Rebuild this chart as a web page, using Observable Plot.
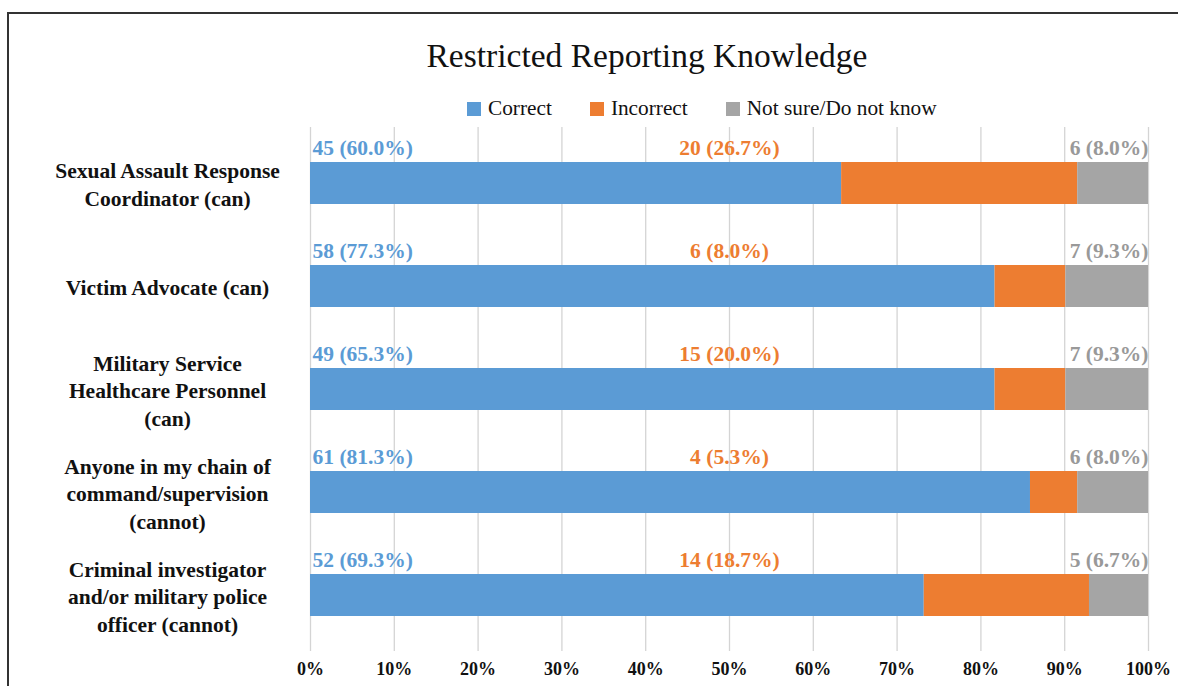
<!DOCTYPE html>
<html>
<head>
<meta charset="utf-8">
<script src="https://cdn.jsdelivr.net/npm/d3@7"></script>
<script src="https://cdn.jsdelivr.net/npm/@observablehq/plot@0.6"></script>
<style>
  html, body { margin: 0; padding: 0; background: #fff; }
  #wrap { position: relative; width: 1178px; height: 686px; overflow: hidden; font-family: "Liberation Serif", "DejaVu Serif", serif; }
  #frame { position: absolute; left: 7px; top: 12px; width: 1200px; height: 700px; border-top: 2px solid #333; border-left: 2px solid #333; }
  #title { position: absolute; left: 0; width: 1294px; top: 37px; text-align: center; font-size: 33.5px; color: #111; }
  #legend { position: absolute; left: 467px; top: 96px; font-size: 21.3px; color: #111; display: flex; align-items: center; white-space: nowrap; }
  .sw { display: inline-block; width: 14px; height: 14px; margin-right: 7px; }
  .item { display: flex; align-items: center; margin-right: 38px; }
  #chart { position: absolute; left: 0; top: 0; }
  #chart svg, #chart svg text { font-family: "Liberation Serif", "DejaVu Serif", serif !important; }
</style>
</head>
<body>
<div id="wrap">
  <div id="frame"></div>
  <div id="title">Restricted Reporting Knowledge</div>
  <div id="legend"></div>
  <div id="chart"></div>
</div>
<script>
// Categories (line breaks as in the chart)
const categories = [
  "Sexual Assault Response\nCoordinator (can)",
  "Victim Advocate (can)",
  "Military Service\nHealthcare Personnel\n(can)",
  "Anyone in my chain of\ncommand/supervision\n(cannot)",
  "Criminal investigator\nand/or military police\nofficer (cannot)"
];
const seriesNames = ["Correct", "Incorrect", "Not sure/Do not know"];
const seriesColors = ["#5B9BD5", "#ED7D31", "#A5A5A5"];

// Bar lengths as drawn (counts, stacked to 100%)
const barCorrect   = [45, 58, 58, 61, 52];
const barIncorrect = [20, 6, 6, 4, 14];
const barNotSure   = [6, 7, 7, 6, 5];

// Data labels
const labelCorrect   = ["45 (60.0%)", "58 (77.3%)", "49 (65.3%)", "61 (81.3%)", "52 (69.3%)"];
const labelIncorrect = ["20 (26.7%)", "6 (8.0%)", "15 (20.0%)", "4 (5.3%)", "14 (18.7%)"];
const labelNotSure   = ["6 (8.0%)", "7 (9.3%)", "7 (9.3%)", "6 (8.0%)", "5 (6.7%)"];

const xTicks = [0, 0.1, 0.2, 0.3, 0.4, 0.5, 0.6, 0.7, 0.8, 0.9, 1.0];

// Legend
const legend = document.getElementById("legend");
seriesNames.forEach((s, i) => {
  const it = document.createElement("div");
  it.className = "item";
  it.innerHTML = `<span class="sw" style="background:${seriesColors[i]}"></span>${s}`;
  legend.appendChild(it);
});

const barSeries = [barCorrect, barIncorrect, barNotSure];
const rows = [];
categories.forEach((c, i) => {
  seriesNames.forEach((s, j) => rows.push({category: c, series: s, value: barSeries[j][i], order: j}));
});
const labels = categories.map((c, i) => ({category: c, a: labelCorrect[i], b: labelIncorrect[i], c: labelNotSure[i]}));

const font = "Liberation Serif, DejaVu Serif, serif";

const chart = Plot.plot({
  width: 1178,
  height: 686,
  marginLeft: 310,
  marginRight: 30,
  marginTop: 127,
  marginBottom: 35,
  style: {fontFamily: font, background: "transparent", overflow: "visible"},
  x: {domain: [0, 1], ticks: xTicks, tickFormat: d => Math.round(d * 100) + "%", label: null},
  y: {domain: categories, paddingInner: 0.59, paddingOuter: 0.33, label: null, axis: null},
  color: {domain: seriesNames, range: seriesColors},
  marks: [
    Plot.ruleX(xTicks, {stroke: "#d4d4d4", strokeWidth: 1.3}),
    Plot.barX(rows, Plot.stackX({offset: "normalize", order: "order", x: "value", y: "category", fill: "series"})),
    Plot.axisX({ticks: xTicks, tickSize: 0, tickPadding: 11, fontSize: 18, fontWeight: "bold", fill: "#111", tickFormat: d => Math.round(d * 100) + "%", label: null}),
    Plot.text(labels, {x: 0, y: "category", text: "a", textAnchor: "start", dx: 2, dy: -35, fill: seriesColors[0], fontSize: 21.5, fontWeight: "bold"}),
    Plot.text(labels, {x: 0.5, y: "category", text: "b", textAnchor: "middle", dy: -35, fill: seriesColors[1], fontSize: 21.5, fontWeight: "bold"}),
    Plot.text(labels, {x: 1, y: "category", text: "c", textAnchor: "end", dy: -35, fill: "#999999", fontSize: 21.5, fontWeight: "bold"}),
    Plot.text(categories, {y: d => d, text: d => d, frameAnchor: "left", dx: -143, textAnchor: "middle", lineHeight: 1.3, fontSize: 21.5, fontWeight: "bold", fill: "#111"})
  ]
});
document.getElementById("chart").appendChild(chart);
</script>
</body>
</html>
